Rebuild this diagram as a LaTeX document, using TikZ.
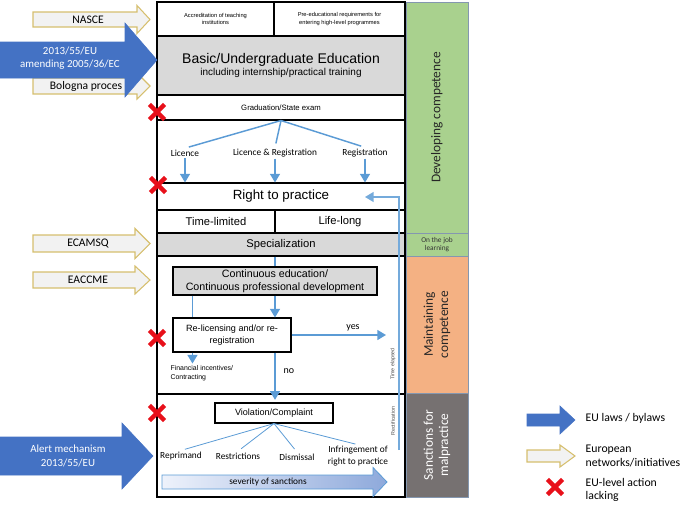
\documentclass[tikz,border=0pt]{standalone}
\usepackage{fontspec}
\setmainfont{Carlito}
\newfontfamily\arialf{Liberation Sans}
\usetikzlibrary{arrows.meta,shapes.misc,calc,positioning}

\definecolor{eublue}{HTML}{4472C4}
\definecolor{netfill}{HTML}{F2F2F2}
\definecolor{netedge}{HTML}{D6BF6E}
\definecolor{flowblue}{HTML}{5B9BD5}
\definecolor{bandgray}{HTML}{D9D9D9}
\definecolor{devgreen}{HTML}{A9D18E}
\definecolor{mntorange}{HTML}{F4B183}
\definecolor{malgray}{HTML}{767171}
\definecolor{sideline}{HTML}{8497B0}
\definecolor{lackred}{HTML}{E8101A}
\definecolor{sevleft}{HTML}{EEF2FB}
\definecolor{sevright}{HTML}{8EA9DB}

% block arrow: style, x start, head start, tip, centre y, half body, half head
\newcommand{\blockarrow}[7]{%
  \path[#1] ({#2},{#5-#6}) -- ({#3},{#5-#6}) -- ({#3},{#5-#7}) -- ({#4},{#5})
    -- ({#3},{#5+#7}) -- ({#3},{#5+#6}) -- ({#2},{#5+#6}) -- cycle;}

\begin{document}
\begin{tikzpicture}[x=0.75pt, y=-0.75pt,
        band/.style={draw, line width=0.8pt, inner sep=0pt, minimum width=186pt,
            align=center, font=\arialf\fontsize{8.4}{10}\selectfont},
        box/.style={draw, line width=0.8pt, inner sep=0pt, align=center},
        side/.style={draw=sideline, line width=0.6pt, inner sep=0pt, minimum width=46.5pt},
        sidetxt/.style={rotate=90, align=center, font=\fontsize{10}{11.5}\selectfont},
        flow/.style={draw=flowblue, line width=1.1pt, -{Triangle[width=7.5pt,length=6.5pt]}},
        twig/.style={draw=flowblue, line width=1.1pt},
        thin twig/.style={draw=flowblue, line width=0.6pt},
        lab/.style={font=\fontsize{7}{8.5}\selectfont, inner sep=1pt, align=center},
        lack/.style={cross out, draw=lackred, line width=3.4pt, minimum size=8pt, inner sep=0pt},
        netarrow/.style={fill=netfill, draw=netedge, line width=0.8pt},
        lawarrow/.style={fill=eublue, draw=eublue},
        arrtxt/.style={font=\fontsize{8.7}{10}\selectfont, align=center},
        legtxt/.style={anchor=west, align=left, font=\fontsize{8.8}{10.2}\selectfont}
      ]

  \useasboundingbox (0,0) rectangle (685,507);

  % right-hand column
  \node[side, fill=devgreen, minimum height=173.25pt] (dev) at (437,117.5) {};
  \node[side, fill=devgreen, minimum height=17.25pt] (otj) at (437,244.5) {};
  \node[side, fill=mntorange, minimum height=102.75pt] (mnt) at (437,324.5) {};
  \node[side, fill=malgray, minimum height=78pt] (mal) at (437,445) {};
  \node[sidetxt, text=black!85] (devtxt) at (dev) {Developing competence};
  \node[align=center, text=black!80, font=\fontsize{5.5}{6.5}\selectfont] (otjtxt) at (otj) {On the job\\learning};
  \node[sidetxt, text=black!85] (mnttxt) at (mnt) {Maintaining\\competence};
  \node[sidetxt, text=white] (maltxt) at (mal) {Sanctions for\\malpractice};

  % main column
  \node[band, minimum width=87.75pt, minimum height=25.5pt, font=\arialf\fontsize{4.3}{5.5}\selectfont] (accr) at (215.5,19) {Accreditation of teaching\\institutions};
  \node[band, minimum width=98.25pt, minimum height=25.5pt, font=\arialf\fontsize{4.3}{5.5}\selectfont] (preed) at (339.5,19) {Pre-educational requirements for\\entering high-level programmes};
  \node[band, fill=bandgray, minimum height=44.25pt] (basic) at (281,65.5) {{\fontsize{10.5}{13}\selectfont Basic/Undergraduate Education}\\[-1pt]{\fontsize{7.5}{9}\selectfont including internship/practical training}};
  \node[band, minimum height=18.75pt, font=\arialf\fontsize{5.8}{7}\selectfont] (grad) at (281,107.5) {Graduation/State exam};
  \node[band, minimum height=47.25pt] (licsec) at (281,151.5) {};
  \node[band, minimum height=20.25pt, font=\arialf\fontsize{10}{12}\selectfont] (rtp) at (281,196.5) {Right to practice};
  \node[band, minimum width=88.5pt, minimum height=17.25pt] (tlim) at (216,221.5) {Time-limited};
  \node[band, minimum width=97.5pt, minimum height=17.25pt] (llong) at (340,221.5) {Life-long};
  \node[band, fill=bandgray, minimum height=17.25pt] (spec) at (281,244.5) {Specialization};
  \node[band, minimum height=103.5pt] (maint) at (281,325) {};
  \node[band, minimum height=77.25pt] (sanc) at (281,445.5) {};

  % licensing
  \node[lab] (lic) at (185,153) {Licence};
  \node[lab] (licreg) at (275,153) {Licence \& Registration};
  \node[lab] (reg) at (365,153) {Registration};
  \draw[twig, shorten >=3pt] (grad.south) -- (lic.north);
  \draw[twig, shorten >=3pt] (grad.south) -- (licreg.north);
  \draw[twig, shorten >=3pt] (grad.south) -- (reg.north);
  \draw[flow] (lic.south) -- (lic.south |- rtp.north);
  \draw[flow] (licreg.south) -- (licreg.south |- rtp.north);
  \draw[flow] (reg.south) -- (reg.south |- rtp.north);

  % maintaining
  \node[box, fill=bandgray, minimum width=153pt, minimum height=21pt, font=\arialf\fontsize{8}{9.5}\selectfont] (ced) at (275,281) {Continuous education/\\Continuous professional development};
  \node[box, fill=white, minimum width=88.5pt, minimum height=25.5pt, font=\arialf\fontsize{6.8}{8.5}\selectfont] (relic) at (232,335) {Re-licensing and/or re-\\registration};
  \node[lab, anchor=west, align=left, font=\arialf\fontsize{5.2}{6.5}\selectfont] (fin) at (169,373) {Financial incentives/\\Contracting};
  \node[lab, font=\fontsize{7.5}{9}\selectfont] (yes) at (353,328) {yes};
  \node[lab, font=\fontsize{7.5}{9}\selectfont] (no) at (289,371) {no};
  \coordinate (finx) at ([xshift=15pt]relic.south west);
  \coordinate (yesend) at (386,335);
  \draw[twig] (ced.south |- spec.south) -- (ced.north);
  \draw[flow] (ced.south) -- (ced.south |- relic.north);
  \draw[twig] (finx |- ced.south) -- (finx |- relic.north);
  \draw[flow] (finx) -- ++(0,11);
  \draw[flow] (relic.east) -- (yesend);

  % sanctions
  \node[box, minimum width=88.5pt, minimum height=15pt, font=\arialf\fontsize{6.8}{8}\selectfont] (viol) at (274,413) {Violation/Complaint};
  \draw[flow, shorten >=2pt] (relic.south -| ced.south) -- (ced.south |- viol.north);
  \node[lab] (repr) at (181,456) {Reprimand};
  \node[lab] (restr) at (238,456) {Restrictions};
  \node[lab] (dism) at (297,457) {Dismissal};
  \node[lab] (infr) at (358,456) {Infringement of\\right to practice};
  \draw[thin twig, shorten >=3pt] (viol.south) -- (repr.north);
  \draw[thin twig, shorten >=3pt] (viol.south) -- (restr.north);
  \draw[thin twig, shorten >=3pt] (viol.south) -- (dism.north);
  \draw[thin twig, shorten >=2pt] (viol.south) -- (infr.north);
  \blockarrow{left color=sevleft, right color=sevright, draw=flowblue, line width=0.6pt}{162}{373}{387}{482}{7}{14.5}
  \node[lab] (sev) at (268,482) {severity of sanctions};

  % time elapsed / rectification
  \coordinate (rectbot) at (399,450);
  \coordinate (rtpin) at (365,197);
  \draw[flow, draw=flowblue!85] (rectbot) |- (rtpin);
  \node[rotate=90, text=black!70, font=\arialf\fontsize{4}{5}\selectfont] (telap) at (393,364) {Time elapsed};
  \node[rotate=90, text=black!70, font=\arialf\fontsize{4}{5}\selectfont] (rectif) at (393,421) {Rectification};

  % arrows on the left
  \blockarrow{netarrow}{33}{137}{150}{19.5}{7.5}{14}
  \node[arrtxt] (nasce) at (88,19.5) {NASCE};
  \blockarrow{netarrow}{33}{137}{150}{86}{8}{13}
  \node[arrtxt] (bologna) at (86,86) {Bologna proces};
  \blockarrow{lawarrow}{0}{125}{157}{60}{18}{37}
  \node[arrtxt, text=white, font=\fontsize{8.2}{10}\selectfont] (dir) at (70,58) {2013/55/EU\\amending 2005/36/EC};
  \blockarrow{netarrow}{33}{135}{150}{243.5}{8.5}{15}
  \node[arrtxt] (ecamsq) at (88,243.5) {ECAMSQ};
  \blockarrow{netarrow}{33}{135}{150}{280}{8}{14}
  \node[arrtxt] (eaccme) at (88,280) {EACCME};
  \blockarrow{lawarrow}{0}{122}{153}{456}{19}{33}
  \node[arrtxt, text=white, font=\fontsize{8.2}{10}\selectfont] (alert) at (68,456) {Alert mechanism\\2013/55/EU};

  % missing EU-level action
  \node[lack] (lack1) at (157,112) {};
  \node[lack] (lack2) at (158,185) {};
  \node[lack] (lack3) at (157,338) {};
  \node[lack] (lack4) at (157,413) {};

  % legend
  \blockarrow{lawarrow}{527}{560}{575}{420}{6}{14}
  \node[legtxt] (leglaw) at (581,418) {EU laws / bylaws};
  \blockarrow{netarrow}{527}{560}{575}{456}{6}{11}
  \node[legtxt] (legnet) at (581,456) {European\\networks/initiatives};
  \node[lack] (leglack) at (555,487) {};
  \node[legtxt] (leglacktxt) at (581,490) {EU-level action\\lacking};

\end{tikzpicture}
\end{document}
